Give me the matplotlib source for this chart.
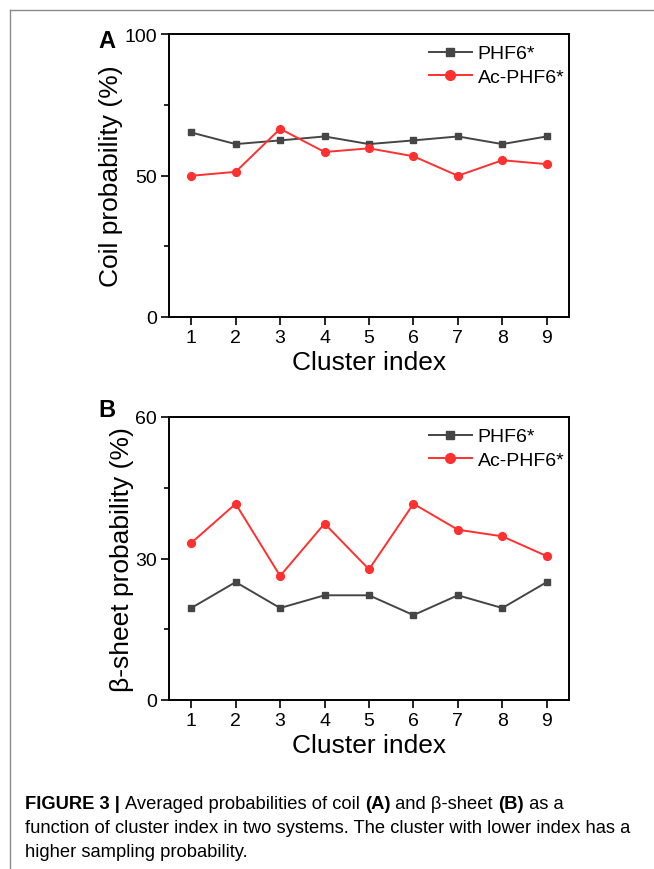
import matplotlib
matplotlib.use("Agg")
import matplotlib.pyplot as plt
from matplotlib.lines import Line2D
from matplotlib.ticker import MultipleLocator

plt.rcParams['font.family'] = ['Liberation Sans', 'DejaVu Sans']

cluster_index = [1, 2, 3, 4, 5, 6, 7, 8, 9]
coil_phf6 = [65.2, 61.1, 62.4, 63.8, 61.1, 62.4, 63.8, 61.1, 63.8]
coil_ac_phf6 = [49.9, 51.3, 66.5, 58.3, 59.6, 56.8, 49.9, 55.4, 54.0]
beta_phf6 = [19.5, 25.0, 19.5, 22.2, 22.2, 18.0, 22.2, 19.5, 25.0]
beta_ac_phf6 = [33.3, 41.6, 26.3, 37.4, 27.7, 41.6, 36.1, 34.7, 30.5]
series_labels = ["PHF6*", "Ac-PHF6*"]

W, H = 654, 870
fig = plt.figure(figsize=(W / 100, H / 100), dpi=100)

gray = '#454545'
red = '#ff3030'


def make_panel(rect, y1, y2, ymax, ylabel, letter, letter_y):
    ax = fig.add_axes(rect)
    ax.plot(cluster_index, y1, color=gray, marker='s', markersize=5.0, lw=1.4,
            label=series_labels[0])
    ax.plot(cluster_index, y2, color=red, marker='o', markersize=5.6, lw=1.4,
            label=series_labels[1])
    ax.set_xlim(0.5, 9.5)
    ax.set_ylim(0, ymax)
    ax.set_xticks(cluster_index)
    ax.yaxis.set_major_locator(MultipleLocator(ymax / 2))
    ax.yaxis.set_minor_locator(MultipleLocator(ymax / 4))
    ax.tick_params(axis='both', which='major', direction='out', length=5.5, width=1.2,
                   labelsize=14, pad=3)
    ax.tick_params(axis='y', which='minor', direction='out', length=3.5, width=1.2)
    ax.tick_params(axis='x', which='minor', bottom=False)
    for s in ax.spines.values():
        s.set_linewidth(1.4)
    ax.set_xlabel("Cluster index", fontsize=19, labelpad=3)
    ax.set_ylabel(ylabel, fontsize=19, labelpad=1)
    ax.legend(loc='upper right', bbox_to_anchor=(1.0 + 6 / 400, 1.0), frameon=False,
              fontsize=14, handlelength=2.2, handletextpad=0.3, markerscale=1.25,
              labelspacing=0.3, borderaxespad=0.15)
    fig.text(98 / W, 1 - letter_y / H, letter, fontsize=17,
             fontweight='bold', ha='left', va='center')
    return ax


make_panel([169 / W, 1 - 318 / H, 400 / W, 283 / H], coil_phf6, coil_ac_phf6, 100,
           "Coil probability (%)", "A", 42)
make_panel([169 / W, 1 - 701 / H, 400 / W, 283 / H], beta_phf6, beta_ac_phf6, 60,
           "β-sheet probability (%)", "B", 411)

# frame lines
fig.add_artist(Line2D([9.5 / W, 1.0], [1 - 10.5 / H, 1 - 10.5 / H], color='#8a8a8a',
                      lw=1.0, transform=fig.transFigure))
fig.add_artist(Line2D([9.5 / W, 9.5 / W], [0, 1 - 10.5 / H], color='#8a8a8a',
                      lw=1.0, transform=fig.transFigure))

cap_size = 13.2
renderer = fig.canvas.get_renderer()
line1_parts = [("FIGURE 3 | ", 'bold'), ("Averaged probabilities of coil ", 'normal'),
               ("(A)", 'bold'), (" and β-sheet ", 'normal'), ("(B)", 'bold'),
               (" as a", 'normal')]
xpos = 25
for txt, wt in line1_parts:
    t = fig.text(xpos / W, 1 - 809 / H, txt, fontsize=cap_size, fontweight=wt,
                 va='baseline', ha='left')
    xpos += t.get_window_extent(renderer=renderer).width
fig.text(25 / W, 1 - 833 / H,
         "function of cluster index in two systems. The cluster with lower index has a",
         fontsize=cap_size, va='baseline', ha='left')
fig.text(25 / W, 1 - 857 / H, "higher sampling probability.", fontsize=cap_size,
         va='baseline', ha='left')

fig.savefig("out.png", dpi=100)
